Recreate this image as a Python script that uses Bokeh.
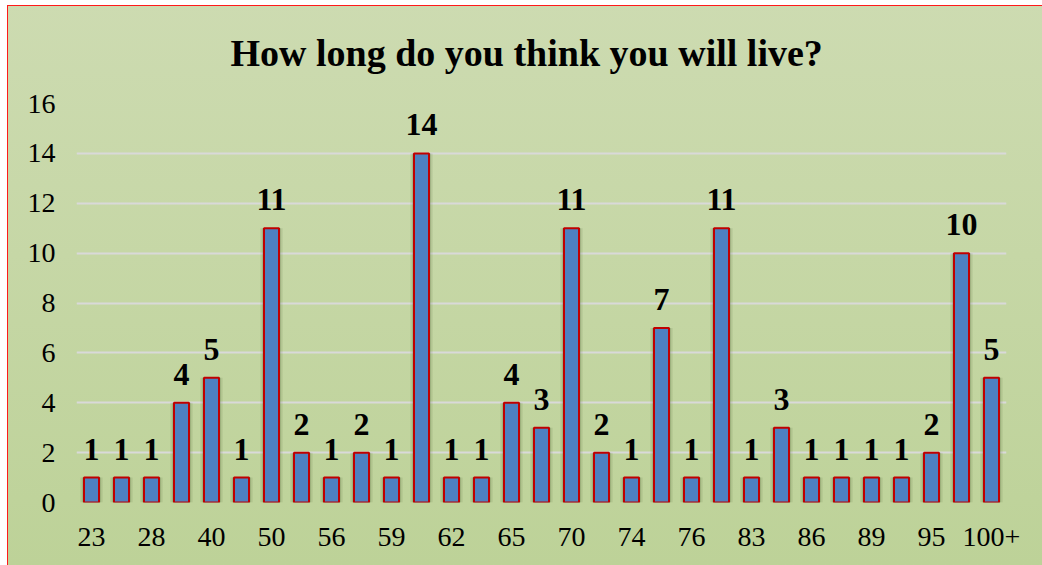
from bokeh.plotting import figure
from bokeh.models import ColumnDataSource, FixedTicker, LabelSet, Range1d
from bokeh.embed import file_html
from bokeh.resources import INLINE

ages = ["23", "25", "28", "35", "40", "45", "50", "55", "56", "58", "59", "60",
        "62", "64", "65", "67", "70", "72", "74", "75", "76", "80", "83", "85",
        "86", "87", "89", "90", "95", "100", "100+"]
counts = [1, 1, 1, 4, 5, 1, 11, 2, 1, 2, 1, 14, 1, 1, 4, 3, 11, 2, 1, 7, 1, 11,
          1, 3, 1, 1, 1, 1, 2, 10, 5]
title_text = "How long do you think you will live?"
y_ticks = [0, 2, 4, 6, 8, 10, 12, 14, 16]

FONT = "Liberation Serif"

pos = list(range(1, len(ages) + 1))
src = ColumnDataSource(dict(x=pos, y=counts, lab=[str(c) for c in counts]))

p = figure(width=1042, height=565, output_backend="svg", toolbar_location=None,
           x_range=Range1d(0.5, len(ages) + 0.5), y_range=Range1d(0, 16),
           min_border_left=76, min_border_right=36, min_border_top=103,
           min_border_bottom=63)

p.background_fill_alpha = 0
p.border_fill_alpha = 0
p.outline_line_color = None
p.styles = {"background": "linear-gradient(180deg, #cddbb1 0%, #c6d7a6 45%, #bdd298 100%)",
            "box-shadow": "inset 7px 5px 0 0 #ffffff, inset 8px 6px 0 0 #ff1a1a"}

p.title.text = title_text
p.title.align = "left"
p.title.text_font = FONT
p.title.text_font_style = "bold"
p.title.text_font_size = "38px"
p.title.text_color = "#000000"
p.title.offset = 154
p.title.standoff = 59

# shadows
p.vbar(x="x", top="y", width=0.74, source=src, fill_color="#4d6233",
       fill_alpha=0.14, line_color=None)
p.vbar(x="x", top="y", width=0.63, source=src, fill_color="#4d6233",
       fill_alpha=0.2, line_color=None)
p.vbar(x="x", top="y", width=0.5, source=src, fill_color="#4e80c0",
       line_color="#c00000", line_width=2)

labels = LabelSet(x="x", y="y", text="lab", source=src, text_align="center",
                  text_baseline="alphabetic", y_offset=18,
                  text_font_size="32px", text_font_style="bold",
                  text_color="#000000")
labels.text_font = FONT
p.add_layout(labels)

p.yaxis.ticker = FixedTicker(ticks=y_ticks)
p.ygrid.ticker = FixedTicker(ticks=y_ticks)
p.ygrid.grid_line_color = "#d9d9d9"
p.ygrid.grid_line_width = 2
p.xgrid.grid_line_color = None

odd = pos[::2]
p.xaxis.ticker = FixedTicker(ticks=odd)
p.xaxis.major_label_overrides = {x: ages[x - 1] for x in odd}

for ax in (p.xaxis[0], p.yaxis[0]):
    ax.axis_line_color = None
    ax.major_tick_line_color = None
    ax.minor_tick_line_color = None
    ax.major_label_text_font = FONT
    ax.major_label_text_font_size = "28px"
    ax.major_label_text_color = "#000000"
p.xaxis.major_label_standoff = 19
p.yaxis.major_label_standoff = 15

open("out.html", "w").write(file_html(p, INLINE))
